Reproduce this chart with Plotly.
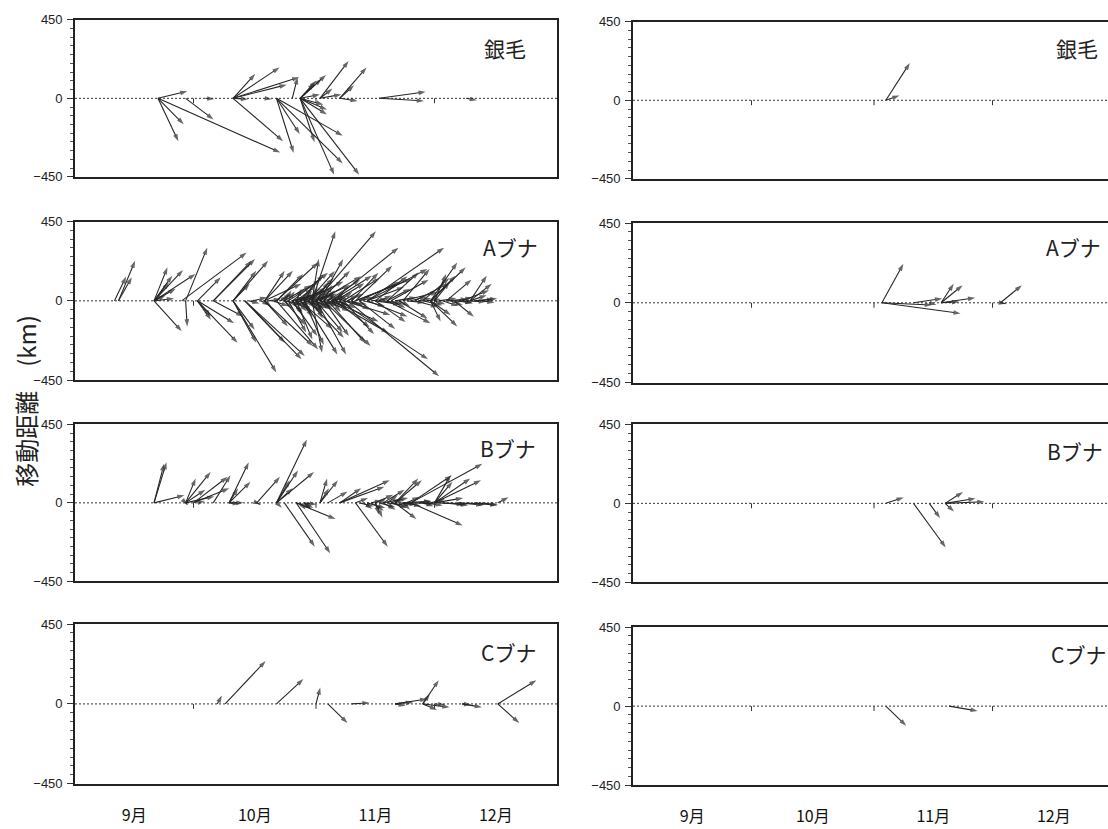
import plotly.graph_objects as go

# ---------------- data ----------------
MONTH_LABELS = ["9月", "10月", "11月", "12月"]
MONTH_NUMS = [9, 10, 11, 12]
MONTH_LENGTHS = [30, 31, 30, 31]
PANEL_NAMES = ["銀毛", "Aブナ", "Bブナ", "Cブナ"]
Y_TICKS = [-450, 0, 450]
Y_TITLE = "移動距離\u3000(km)"

# each arrow: (release date "M-D", eastward km, northward km)
GINMO_L = [
    ("9-22", 164, 41), ("9-22", 144, -149), ("9-22", 114, -246), ("9-22", 684, -311),
    ("9-29", 156, -121), ("10-4", 50, -4),
    ("10-11", 124, 140), ("10-11", 260, 177), ("10-11", 370, 121), ("10-11", 300, 78),
    ("10-11", 280, -246), ("10-11", 84, -6),
    ("10-19", 40, -6),
    ("10-22", 130, -205), ("10-22", 96, -313), ("10-22", 370, -214), ("10-22", 370, -373),
    ("10-26", 30, 121),
    ("10-28", 90, 102), ("10-28", 120, 112), ("10-28", 144, 134), ("10-28", 80, 89),
    ("10-28", 190, -438), ("10-28", 330, -438), ("10-28", 80, -251), ("10-28", 150, -65),
    ("10-28", 150, -93), ("10-28", 130, -37), ("10-28", 110, 22),
    ("11-2", 160, 214), ("11-2", 70, 56), ("11-2", 120, 22),
    ("11-7", 150, 177), ("11-7", 80, 75), ("11-7", 100, -15),
    ("11-17", 260, 37), ("11-17", 250, -15),
    ("12-9", 60, -11),
]
GINMO_R = [
    ("11-4", 134, 214), ("11-4", 76, 28),
]
A_L = [
    ("9-11", 65, 138), ("9-12", 93, 227), ("9-12", 75, 134),
    ("9-21", 75, 190), ("9-21", 102, 143), ("9-21", 162, 175), ("9-21", 232, 153),
    ("9-21", 155, -173), ("9-21", 84, 106), ("9-21", 121, 69), ("9-21", 65, 32), ("9-21", 112, 13),
    ("9-29", 121, 302), ("9-29", 9, -145), ("9-28", 363, 274),
    ("10-2", 130, 134), ("10-2", 75, -89), ("10-2", 75, -108), ("10-2", 224, -238), ("10-2", 205, -127),
    ("10-6", 214, 227), ("10-6", 233, 237), ("10-6", 168, -89),
    ("10-11", 196, 227), ("10-11", 130, 171), ("10-11", 93, 97), ("10-11", 242, -406),
    ("10-11", 130, -238), ("10-11", 121, -164),
    ("10-14", 224, -238), ("10-14", 317, -332), ("10-14", 335, -313),
    ("10-19", 112, 171), ("10-19", 158, 171), ("10-19", 205, 97), ("10-19", 37, -34),
    ("10-19", 130, -145), ("10-19", 270, -257),
    ("10-22", 233, 218), ("10-22", 149, 153), ("10-22", 233, -276),
    ("10-31", 130, 395), ("10-31", 37, 237), ("10-31", 56, -294),
    ("10-29", 186, -304),
    ("11-1", 335, 395), ("11-1", 168, -304),
    ("11-2", 168, 171), ("11-2", 130, 237),
    ("11-3", 261, -257),
    ("11-5", 373, 302), ("11-5", 224, 143), ("11-5", 317, -183), ("11-5", 261, -117),
    ("11-7", 494, -332), ("11-8", 261, -80), ("11-9", 512, -428),
    ("11-11", 205, 199), ("11-11", 317, 125), ("11-11", 242, 97),
    ("11-14", 429, 302), ("11-14", 335, 181), ("11-14", 205, 78), ("11-14", 224, -89),
    ("11-19", 177, 162), ("11-19", 130, 69), ("11-19", 242, -127),
    ("11-23", 149, 181), ("11-23", 196, 50),
    ("11-30", 149, 218), ("11-30", 196, 190), ("11-30", 140, 143), ("11-30", 56, -117),
    ("11-30", 149, -145), ("11-30", 112, -80),
    ("12-1", 65, 153), ("12-1", 84, 106),
    ("12-10", 93, 143), ("12-10", 121, 97), ("12-10", 93, 32),
    ("12-11", 130, 13),
    ("10-15", 60, -15), ("10-16", 80, 20), ("10-18", 50, -25), ("10-20", 70, 10),
    ("10-21", 90, -30), ("10-23", 60, 40), ("10-24", 100, -20), ("10-24", 40, 60),
    ("10-25", 80, -60), ("10-26", 120, 30), ("10-26", 60, -80), ("10-27", 90, 70),
    ("10-27", 50, -40), ("10-28", 110, 50), ("10-28", 70, -90), ("10-29", 60, 100),
    ("10-29", 130, -40), ("10-30", 80, -70), ("10-30", 100, 80), ("10-31", 60, -100),
    ("10-31", 140, 40), ("11-1", 90, -50), ("11-1", 70, 110), ("11-2", 100, -30),
    ("11-3", 60, 60), ("11-4", 120, -60), ("11-5", 80, 30), ("11-6", 110, -40),
    ("11-7", 70, 50), ("11-8", 130, -20), ("11-9", 90, 40), ("11-10", 100, -50),
    ("11-12", 80, 20), ("11-13", 120, -30), ("11-15", 90, 10), ("11-16", 140, -20),
    ("11-17", 70, 30), ("11-18", 110, -15), ("11-20", 80, -40), ("11-21", 120, 20),
    ("11-22", 60, -30), ("11-24", 100, -10), ("11-25", 90, 25), ("11-26", 130, -35),
    ("11-27", 70, 15), ("11-28", 110, -25), ("11-29", 80, 10), ("12-1", 60, -20),
    ("12-2", 100, 15), ("12-3", 90, -30), ("12-4", 120, 10), ("12-5", 70, -25),
    ("12-6", 100, -10), ("12-7", 80, 20), ("12-8", 60, -15), ("12-9", 110, -5),
    ("12-12", 90, 10), ("12-13", 70, -10),
    ("10-24", 150, 90), ("10-24", 120, -140), ("10-25", 180, 120), ("10-25", 100, -180),
    ("10-26", 200, 160), ("10-26", 140, -200), ("10-27", 160, 60), ("10-27", 90, -220),
    ("10-28", 130, 150), ("10-28", 180, -160), ("10-29", 220, 110), ("10-29", 110, -250),
    ("10-30", 150, 170), ("10-30", 200, -210), ("10-31", 120, 130), ("11-1", 190, 90),
    ("11-1", 150, -180), ("11-2", 230, 140), ("11-3", 140, -200), ("11-4", 180, 120),
    ("11-4", 210, -240), ("11-6", 160, 100), ("11-6", 190, -150), ("11-8", 200, 130),
    ("11-8", 170, -190), ("11-10", 150, 160), ("11-12", 230, 110), ("11-12", 200, -160),
    ("11-16", 180, 140), ("11-16", 170, -120), ("11-20", 210, 120), ("11-22", 160, -100),
    ("11-26", 190, 100), ("11-28", 150, 130), ("12-4", 140, 120), ("12-6", 110, -90),
    ("12-8", 150, 60),
    ("10-23", 40, 30), ("10-24", 50, -45), ("10-25", 35, 55), ("10-26", 45, -30),
    ("10-27", 30, 70), ("10-27", 60, -60), ("10-28", 40, 40), ("10-28", 55, -50),
    ("10-29", 35, -70), ("10-29", 45, 60), ("10-30", 50, 35), ("10-30", 40, -40),
    ("10-31", 30, 80), ("10-31", 55, -55), ("11-1", 45, 45), ("11-1", 35, -75),
    ("11-2", 50, 70), ("11-2", 60, -45), ("11-3", 40, -35), ("11-3", 45, 90),
    ("11-4", 35, 40), ("11-5", 50, -65), ("11-6", 45, 55), ("11-7", 40, -45),
    ("11-9", 55, 35), ("11-10", 40, -30),
    ("10-26", 70, 20), ("10-27", 80, -20), ("10-28", 60, 15), ("10-29", 90, -15),
    ("10-30", 70, 25), ("10-31", 85, -25), ("11-1", 60, 20), ("11-2", 75, -15),
    ("11-3", 80, 25), ("11-4", 65, -20), ("11-5", 90, 15), ("11-6", 70, -25),
]
A_R = [
    ("11-3", 120, 220), ("11-3", 440, -60), ("11-3", 280, -13),
    ("11-11", 160, 24), ("11-15", 40, -13),
    ("11-18", 70, 108), ("11-18", 120, 99), ("11-18", 190, 28), ("11-18", 100, 6),
    ("12-3", 120, 99), ("12-3", 30, -5),
]
B_L = [
    ("9-21", 70, 233), ("9-21", 56, 224), ("9-21", 170, 43),
    ("9-29", 56, 140), ("9-29", 140, 177), ("9-29", 110, 75), ("9-29", 160, 37), ("9-29", 10, -10),
    ("10-1", 190, 149), ("10-1", 200, 84),
    ("10-6", 96, 158),
    ("10-10", 110, 233), ("10-10", 120, 121), ("10-10", 50, 84), ("10-10", 80, 0),
    ("10-17", 130, 149), ("10-17", 20, -9),
    ("10-22", 170, 363), ("10-22", 74, 130), ("10-22", 120, 186), ("10-22", 210, 177),
    ("10-22", 90, 84), ("10-22", 30, -28),
    ("10-24", 170, -251),
    ("10-27", 190, -289), ("10-27", 220, -93), ("10-27", 80, -28),
    ("10-29", 70, -9), ("10-29", 40, -40), ("10-28", 30, -40), ("10-29", 50, -30),
    ("11-2", 40, 140), ("11-2", 100, 130), ("11-2", 50, 84),
    ("11-4", 110, 65),
    ("11-7", 120, 84), ("11-7", 280, 130), ("11-7", 250, 93),
    ("11-11", 180, -251), ("11-11", 70, 28),
    ("11-16", 20, -65), ("11-16", 40, -84), ("11-16", 100, 47),
    ("11-18", 120, 75), ("11-18", 140, 28),
    ("11-21", 130, 140), ("11-21", 150, 130), ("11-21", 120, -93),
    ("11-23", 60, -10), ("11-23", 160, 9),
    ("11-25", 400, 224), ("11-25", 290, -130), ("11-25", 230, 158),
    ("12-1", 90, 158), ("12-1", 200, 140), ("12-1", 260, 130), ("12-1", 100, 121), ("12-1", 160, 28),
    ("12-2", 160, -9),
    ("12-17", 60, 32),
    ("11-12", 80, -20), ("11-14", 100, -30), ("11-15", 60, 15), ("11-17", 90, -25),
    ("11-18", 70, -40), ("11-19", 120, -15), ("11-20", 60, 20), ("11-22", 100, -10),
    ("11-24", 80, -20), ("11-26", 110, -5), ("11-27", 70, 10), ("11-29", 90, -15),
    ("12-3", 120, -10), ("12-5", 100, -15), ("12-7", 140, -12), ("12-9", 110, -10),
    ("12-11", 130, -14), ("12-13", 90, -12), ("10-2", 40, 10), ("10-10", 60, -5),
    ("11-13", 50, -35), ("11-15", 70, -45), ("11-17", 40, 30), ("11-19", 60, 45),
    ("11-20", 90, -30), ("11-21", 50, 25), ("11-23", 40, -40), ("11-24", 70, 35),
    ("11-28", 60, -20), ("11-30", 80, 20),
]
B_R = [
    ("11-4", 100, 34), ("11-11", 180, -251), ("11-15", 60, -84),
    ("11-19", 100, 65), ("11-19", 170, 28), ("11-19", 220, 9), ("11-19", 50, -47),
]
C_L = [
    ("10-7", 26, 47), ("10-9", 226, 242), ("10-22", 150, 140), ("11-1", 24, 93),
    ("11-4", 110, -108), ("11-10", 100, 6),
    ("11-21", 180, 28), ("11-21", 100, 10), ("11-21", 60, -10),
    ("11-28", 90, 134), ("11-28", 40, 56), ("11-28", 150, -19), ("11-28", 80, -34),
    ("12-1", 60, -5), ("12-8", 50, -5), ("12-8", 110, -19),
    ("12-17", 216, 134), ("12-17", 120, -108),
]
C_R = [
    ("11-4", 114, -112), ("11-20", 160, -28),
]

LEFT_DATA = [GINMO_L, A_L, B_L, C_L]
RIGHT_DATA = [GINMO_R, A_R, B_R, C_R]

# ---------------- helpers ----------------
month_start = {}
acc = 0
for m, n in zip(MONTH_NUMS, MONTH_LENGTHS):
    month_start[m] = acc
    acc += n
SEASON_DAYS = acc
MONTH_BOUNDS = [month_start[m] for m in MONTH_NUMS[1:]]
MONTH_MIDS = [month_start[m] + n / 2 for m, n in zip(MONTH_NUMS, MONTH_LENGTHS)]


def day_of(s):
    m, d = s.split("-")
    return month_start[int(m)] + int(d) - 1


KM_PER_DAY = 22.1  # drawing scale: horizontal km per day so vectors stay isotropic
ARROW_COLOR = "#262626"

W, H = 1108, 829
LEFT_X = (75, 557)
RIGHT_X = (633, 1108)
PX_PER_DAY = (LEFT_X[1] - LEFT_X[0]) / SEASON_DAYS
LEFT_Y = [(13, 173), (218.5, 380), (425, 585), (628.5, 791)]
RIGHT_Y = [(15, 175), (220, 382.5), (425, 586), (631.5, 792.5)]
LEFT_LABEL = [(505, 42), (510, 244), (508, 449), (508, 657)]
RIGHT_LABEL = [(1077, 42), (1073, 244), (1075, 452), (1078, 659)]

fig = go.Figure()
layout = {}
shapes = []
annotations = []


def arrow_trace(data, xa, ya):
    xs, ys, sizes = [], [], []
    for date, east, north in data:
        x0 = day_of(date)
        xs += [x0, x0 + east / KM_PER_DAY, None]
        ys += [0, north, None]
        sizes += [0, 7.5, 0]
    return go.Scatter(
        x=xs, y=ys, xaxis=xa, yaxis=ya, mode="lines+markers",
        line=dict(color=ARROW_COLOR, width=1.1),
        marker=dict(symbol="arrow", size=sizes, angleref="previous",
                    color=ARROW_COLOR, line=dict(width=0)),
        hoverinfo="skip", showlegend=False,
    )


idx = 0
for col in range(2):
    for row in range(4):
        idx += 1
        sfx = "" if idx == 1 else str(idx)
        xa, ya = "x" + sfx, "y" + sfx
        if col == 0:
            xpx, ypx, data, lab = LEFT_X, LEFT_Y[row], LEFT_DATA[row], LEFT_LABEL[row]
        else:
            xpx, ypx, data, lab = RIGHT_X, RIGHT_Y[row], RIGHT_DATA[row], RIGHT_LABEL[row]
        xr = [0, (xpx[1] - xpx[0]) / PX_PER_DAY]
        bottom = row == 3
        layout["xaxis" + sfx] = dict(
            domain=[xpx[0] / W, xpx[1] / W], anchor=ya, range=xr,
            showgrid=False, zeroline=False, showline=True, mirror=True,
            linecolor="#222", linewidth=1.6, ticks="",
            tickvals=MONTH_MIDS, ticktext=MONTH_LABELS, showticklabels=bottom,
            ticklabelstandoff=16,
            tickfont=dict(family="Noto Sans CJK JP", size=16, color="#111"),
        )
        layout["yaxis" + sfx] = dict(
            domain=[1 - ypx[1] / H, 1 - ypx[0] / H], anchor=xa, range=[-450, 450],
            showgrid=False, zeroline=False, showline=True, mirror=(col == 0),
            linecolor="#222", linewidth=1.6,
            tickvals=Y_TICKS, ticks="outside", ticklen=6, tickcolor="#333", tickwidth=1,
            minor=dict(dtick=50, ticks="outside", ticklen=3, tickcolor="#555", tickwidth=1),
            tickfont=dict(family="Liberation Sans", size=13, color="#222"),
            ticklabelstandoff=2,
        )
        fig.add_trace(arrow_trace(data, xa, ya))
        shapes.append(dict(type="line", xref=xa + " domain", yref=ya, x0=0, x1=1, y0=0, y1=0,
                           line=dict(color="#333", width=1, dash="2px,2px"), layer="below"))
        for b in MONTH_BOUNDS:
            shapes.append(dict(type="line", xref=xa, yref=ya, x0=b, x1=b, y0=0, y1=-28,
                               line=dict(color="#333", width=1)))
        annotations.append(dict(xref="paper", yref="paper", x=lab[0] / W, y=1 - lab[1] / H,
                                text=PANEL_NAMES[row], showarrow=False,
                                xanchor="center", yanchor="middle",
                                font=dict(family="Noto Sans CJK JP", size=21, color="#222")))

annotations.append(dict(xref="paper", yref="paper", x=26 / W, y=1 - 401 / H, text=Y_TITLE,
                        textangle=-90, showarrow=False, xanchor="center", yanchor="middle",
                        font=dict(family="Noto Sans CJK JP", size=24, color="#222")))

fig.update_layout(
    width=W, height=H, margin=dict(l=0, r=0, t=0, b=0),
    paper_bgcolor="white", plot_bgcolor="white",
    shapes=shapes, annotations=annotations, **layout,
)

fig.write_html("out.html")
